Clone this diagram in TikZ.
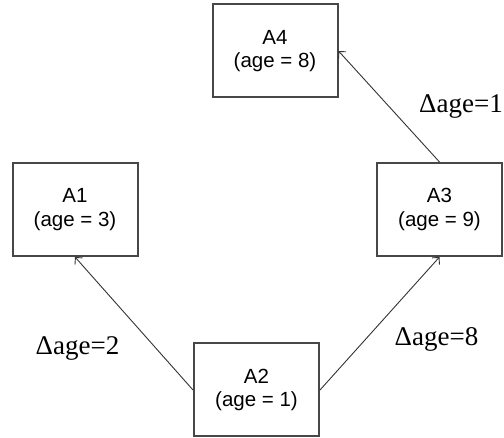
\documentclass[tikz,border=0pt]{standalone}
\usepackage{fontspec}
\setmainfont{Liberation Serif}
\newfontfamily\boxfont{Liberation Sans}
\usetikzlibrary{arrows.meta, positioning}

\begin{document}
\begin{tikzpicture}[x=1pt, y=-1pt, node distance=180pt, on grid, >={Straight Barb[length=5pt,width=10pt]}]
  \tikzstyle{agent} = [draw=black!72, line width=2pt, fill=white, rectangle, minimum height=93pt, minimum width=125pt, inner sep=0pt, align=center, font={\boxfont\fontsize{20.5}{23.5}\selectfont}]
  \tikzstyle{ageEdge} = [black!80, ->, line width=0.9pt];
  \tikzstyle{deltaLabel} = [anchor=base, inner sep=0pt, font={\fontsize{27}{30}\selectfont}];

  \useasboundingbox (0,0) rectangle (504,438);

  \node[agent](a2) at (256.5,390) {A2\\(age = 1)};
  \node[agent](a1) [above left=180.5pt and 181.5pt of a2] {A1\\(age = 3)};
  \node[agent](a3) [above right=180.5pt and 183pt of a2] {A3\\(age = 9)};
  \node[agent](a4) [above left=158.5pt and 164.5pt of a3] {A4\\(age = 8)};

  \node[deltaLabel](d2) at (77.5,355) {Δage=2};
  \node[deltaLabel](d8) at (436.5,346) {Δage=8};
  \node[deltaLabel](d1) at (461,113) {Δage=1};

  \path[ageEdge]
  (a2.west) edge (a1.south)
  (a2.east) edge (a3.south)
  (a3.north) edge (a4.east);
\end{tikzpicture}
\end{document}
